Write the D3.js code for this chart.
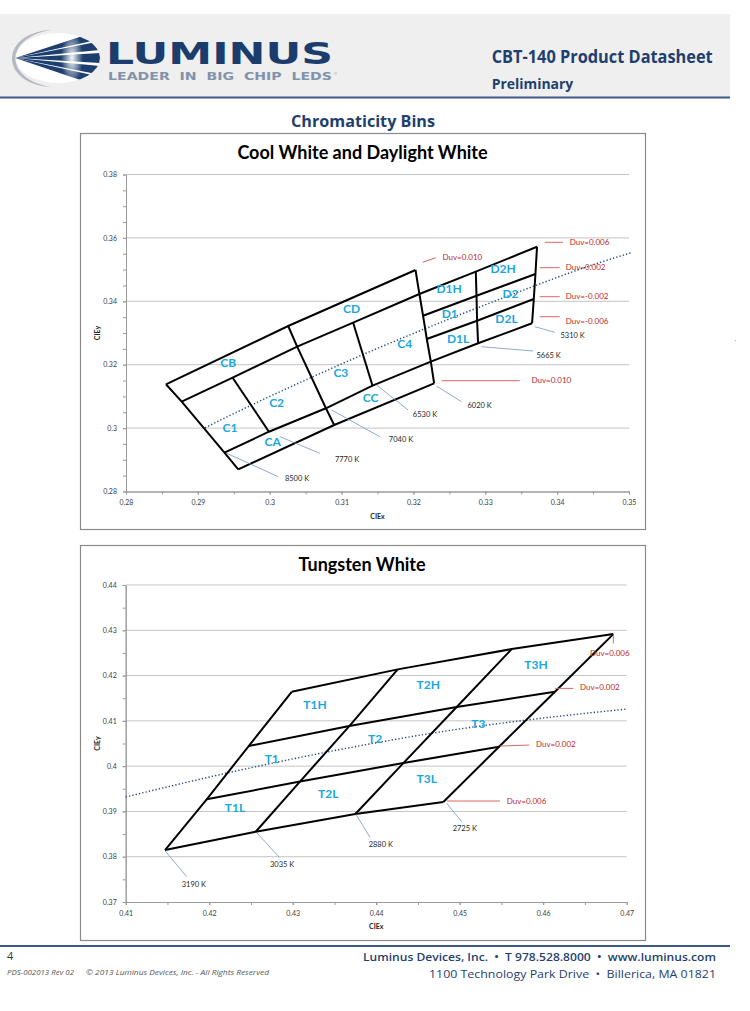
<!DOCTYPE html>
<html>
<head>
<meta charset="utf-8">
<script src="https://cdn.jsdelivr.net/npm/d3@7"></script>
<style>
body { margin: 0; background: #fff; }
svg { display: block; }
</style>
</head>
<body>
<script>
// ---------- data ----------

// Cool White / Daylight White (CIE x, CIE y)
const coolXTicks = [0.28, 0.29, 0.30, 0.31, 0.32, 0.33, 0.34, 0.35];
const coolYTicks = [0.28, 0.30, 0.32, 0.34, 0.36, 0.38];

// Duv boundary lines, top to bottom
const coolTop = [[0.28556, 0.31382], [0.30257, 0.33221], [0.32029, 0.34987]];
const coolUpper = [[0.28775, 0.30833], [0.29484, 0.31590], [0.30382, 0.32568], [0.31161, 0.33325],
                   [0.32083, 0.34230], [0.32868, 0.34934], [0.33720, 0.35722]];
const coolMidHigh = [[0.32134, 0.33546], [0.32878, 0.34177], [0.33698, 0.34861]];
const coolMidLow = [[0.32186, 0.32811], [0.32886, 0.33388], [0.33675, 0.34073]];
const coolLower = [[0.29370, 0.29224], [0.29989, 0.29886], [0.30782, 0.30625], [0.31431, 0.31338],
                   [0.32242, 0.32095], [0.32900, 0.32675], [0.33651, 0.33306]];
const coolBottom = [[0.29562, 0.28700], [0.30897, 0.30098], [0.32288, 0.31413]];

// black body locus (dotted)
const coolLocus = [[0.2910, 0.3001], [0.2952, 0.3048], [0.3003, 0.3103], [0.3064, 0.3166], [0.3135, 0.3237],
                   [0.3221, 0.3318], [0.3324, 0.3410], [0.3451, 0.3516], [0.3503, 0.3553]];

const coolBins = [
  {name: "CB", x: 0.29423, y: 0.32063}, {name: "CD", x: 0.31139, y: 0.33779},
  {name: "C1", x: 0.29446, y: 0.30025}, {name: "C2", x: 0.30096, y: 0.30814},
  {name: "C3", x: 0.30990, y: 0.31748}, {name: "C4", x: 0.31880, y: 0.32675},
  {name: "CA", x: 0.30040, y: 0.29584}, {name: "CC", x: 0.31403, y: 0.30972},
  {name: "D1H", x: 0.32497, y: 0.34410}, {name: "D1", x: 0.32506, y: 0.33600},
  {name: "D1L", x: 0.32622, y: 0.32833}, {name: "D2H", x: 0.33248, y: 0.35019},
  {name: "D2", x: 0.33351, y: 0.34230}, {name: "D2L", x: 0.33295, y: 0.33464}
];

const coolCct = [
  {text: "8500 K", at: [0.30211, 0.28426], from: [0.29405, 0.29205], to: [0.30118, 0.28467]},
  {text: "7770 K", at: [0.30907, 0.29025], from: [0.30142, 0.29729], to: [0.30698, 0.29205]},
  {text: "7040 K", at: [0.31658, 0.29656], from: [0.30861, 0.30571], to: [0.31533, 0.29729]},
  {text: "6530 K", at: [0.31992, 0.30445], from: [0.31487, 0.31360], to: [0.31926, 0.30571]},
  {text: "6020 K", at: [0.32752, 0.30729], from: [0.32321, 0.31328], to: [0.32669, 0.30833]},
  {text: "5665 K", at: [0.33712, 0.32306], from: [0.32947, 0.32568], to: [0.33665, 0.32432]},
  {text: "5310 K", at: [0.34046, 0.32915], from: [0.33689, 0.33199], to: [0.33967, 0.33022]}
];

const coolDuv = [
  {text: "Duv=0.006", at: [0.34175, 0.35871], from: [0.33828, 0.35861], to: [0.34082, 0.35861]},
  {text: "Duv=0.002", at: [0.34120, 0.35081], from: [0.33758, 0.35060], to: [0.34036, 0.35060]},
  {text: "Duv=-0.002", at: [0.34120, 0.34167], from: [0.33758, 0.34145], to: [0.34036, 0.34145]},
  {text: "Duv=-0.006", at: [0.34120, 0.33379], from: [0.33758, 0.33514], to: [0.34036, 0.33514]},
  {text: "Duv=0.010", at: [0.32405, 0.35397], from: [0.32127, 0.35230], to: [0.32311, 0.35375]},
  {text: "Duv=0.010", at: [0.33643, 0.31517], from: [0.32391, 0.31495], to: [0.33480, 0.31495]}
];

// Tungsten White
const tungXTicks = [0.41, 0.42, 0.43, 0.44, 0.45, 0.46, 0.47];
const tungYTicks = [0.37, 0.38, 0.39, 0.40, 0.41, 0.42, 0.43, 0.44];

const tungTop = [[0.42988, 0.41642], [0.44257, 0.42137], [0.45623, 0.42585], [0.46840, 0.42916]];
const tungUpper = [[0.42473, 0.40444], [0.43678, 0.40885], [0.44964, 0.41305], [0.46141, 0.41642]];
const tungLower = [[0.41970, 0.39267], [0.43087, 0.39660], [0.44325, 0.40068], [0.45471, 0.40428]];
const tungBottom = [[0.41471, 0.38148], [0.42557, 0.38552], [0.43750, 0.38943], [0.44804, 0.39208]];

const tungLocus = [[0.4100, 0.3932], [0.4234, 0.3990], [0.4369, 0.4041], [0.4478, 0.4076],
                   [0.4599, 0.4106], [0.4700, 0.4126]];

const tungBins = [
  {name: "T3H", x: 0.45914, y: 0.42232}, {name: "T2H", x: 0.44624, y: 0.41790},
  {name: "T1H", x: 0.43267, y: 0.41349}, {name: "T3", x: 0.45223, y: 0.40929},
  {name: "T2", x: 0.43986, y: 0.40598}, {name: "T1", x: 0.42749, y: 0.40172},
  {name: "T3L", x: 0.44605, y: 0.39731}, {name: "T2L", x: 0.43426, y: 0.39400},
  {name: "T1L", x: 0.42309, y: 0.39082}
];

const tungCct = [
  {text: "2725 K", at: [0.44916, 0.38627], from: [0.44844, 0.39179], to: [0.45024, 0.38773]},
  {text: "2880 K", at: [0.43910, 0.38274], from: [0.43758, 0.38936], to: [0.43926, 0.38428]},
  {text: "3035 K", at: [0.42728, 0.37839], from: [0.42569, 0.38530], to: [0.42840, 0.37987]},
  {text: "3190 K", at: [0.41671, 0.37397], from: [0.41471, 0.38132], to: [0.41731, 0.37559]}
];

const tungDuv = [
  {text: "Duv=0.006", at: [0.46560, 0.42503], from: [0.46840, 0.42916], to: [0.46840, 0.42711]},
  {text: "Duv=0.002", at: [0.46441, 0.41740], from: [0.46141, 0.41717], to: [0.46360, 0.41717]},
  {text: "Duv=0.002", at: [0.45914, 0.40481], from: [0.45483, 0.40444], to: [0.45833, 0.40466]},
  {text: "Duv=0.006", at: [0.45563, 0.39236], from: [0.44844, 0.39230], to: [0.45483, 0.39230]}
];

// ---------- page ----------

let svg = d3.select("body").append("svg")
  .attr("width", 750)
  .attr("height", 1011);

let navy = "#1f3f6e";
let chartFont = "Lato, 'Open Sans', sans-serif";

// header band
svg.append("rect").attr("x", 0).attr("y", 14).attr("width", 730).attr("height", 83).attr("fill", "#efefef");
svg.append("line").attr("x1", 0).attr("x2", 730).attr("y1", 97.5).attr("y2", 97.5)
  .attr("stroke", "#3a5a85").attr("stroke-width", 2);

// logo emblem
let defs = svg.append("defs");
defs.append("clipPath").attr("id", "emblem")
  .append("ellipse").attr("cx", 58).attr("cy", 58).attr("rx", 42).attr("ry", 25);
let glow = defs.append("radialGradient").attr("id", "glow");
glow.append("stop").attr("offset", "0%").attr("stop-color", "#fff").attr("stop-opacity", 0.95);
glow.append("stop").attr("offset", "100%").attr("stop-color", "#fff").attr("stop-opacity", 0);

svg.append("path")
  .attr("d", "M 52,30 A 45 29 0 0 0 52 87 A 38 27 0 0 1 52 30 Z")
  .attr("fill", "#b5bac2");

let emb = svg.append("g").attr("clip-path", "url(#emblem)");
emb.append("rect").attr("x", 10).attr("y", 30).attr("width", 95).attr("height", 60).attr("fill", "#fff");
[[30, 39], [41, 50], [53, 63], [66, 75], [77, 87]].forEach(function(b) {
  emb.append("path")
    .attr("d", `M 15,58 L 101,${b[0]} L 101,${b[1]} Z`)
    .attr("fill", "#1d3e6f");
});
emb.append("ellipse").attr("cx", 72).attr("cy", 58).attr("rx", 11).attr("ry", 26).attr("fill", "url(#glow)");

svg.append("text").attr("x", 106).attr("y", 64)
  .attr("font-family", "'DejaVu Sans', sans-serif").attr("font-weight", "bold").attr("font-size", 31)
  .attr("textLength", 227).attr("lengthAdjust", "spacingAndGlyphs")
  .attr("fill", "#1b3d6d").text("LUMINUS");

svg.append("text").attr("x", 108).attr("y", 80)
  .attr("font-family", "'DejaVu Sans', sans-serif").attr("font-weight", "bold").attr("font-size", 10)
  .attr("textLength", 224).attr("lengthAdjust", "spacingAndGlyphs")
  .attr("fill", "#8193aa").text("LEADER  IN  BIG  CHIP  LEDS")
  .attr("xml:space", "preserve");
svg.append("text").attr("x", 334).attr("y", 75)
  .attr("font-family", "sans-serif").attr("font-size", 4).attr("fill", "#8193aa").text("®");

svg.append("text").attr("x", 491.7).attr("y", 63)
  .attr("font-family", "'Open Sans', sans-serif").attr("font-weight", "bold").attr("font-size", 18)
  .attr("textLength", 221).attr("lengthAdjust", "spacingAndGlyphs")
  .attr("fill", navy).text("CBT-140 Product Datasheet");

svg.append("text").attr("x", 491.7).attr("y", 89)
  .attr("font-family", "'Open Sans', sans-serif").attr("font-weight", "bold").attr("font-size", 13.5)
  .attr("textLength", 81.6).attr("lengthAdjust", "spacingAndGlyphs")
  .attr("fill", navy).text("Preliminary");

svg.append("text").attr("x", 291).attr("y", 127)
  .attr("font-family", "'Open Sans', sans-serif").attr("font-weight", "bold").attr("font-size", 16)
  .attr("textLength", 144).attr("lengthAdjust", "spacingAndGlyphs")
  .attr("fill", navy).text("Chromaticity Bins");

svg.append("text").attr("x", 734).attr("y", 343).attr("font-size", 8).attr("fill", "#666").text("·");

// ---------- charts ----------

let fmt = d => String(+d.toFixed(3));

function drawChart(cfg) {
  let g = svg.append("g");

  g.append("rect") //chart frame
    .attr("x", cfg.frame[0] + 0.5).attr("y", cfg.frame[1] + 0.5)
    .attr("width", cfg.frame[2]).attr("height", cfg.frame[3])
    .attr("fill", "#fff").attr("stroke", "#8a8a8a").attr("stroke-width", 1.2);

  g.append("text")
    .attr("x", cfg.titleX).attr("y", cfg.frame[1] + 26)
    .attr("text-anchor", "middle")
    .attr("font-family", chartFont).attr("font-weight", "bold").attr("font-size", 18)
    .attr("fill", "#000").text(cfg.title);

  let x = d3.scaleLinear().domain(cfg.xDomain).range([cfg.left, cfg.right]);
  let y = d3.scaleLinear().domain(cfg.yDomain).range([cfg.bottom, cfg.top]);

  //horizontal gridlines
  g.selectAll(".grid").data(cfg.yTicks.slice(1)).enter().append("line")
    .attr("x1", cfg.left).attr("x2", cfg.right)
    .attr("y1", d => y(d)).attr("y2", d => y(d))
    .attr("stroke", "#c4c4c4").attr("stroke-width", 1);

  let minorX = d3.range(cfg.xDomain[0], cfg.xDomain[1] + 1e-9, 0.005);
  let minorY = d3.range(cfg.yDomain[0], cfg.yDomain[1] + 1e-9, 0.005);

  g.append("g").attr("transform", `translate(0, ${cfg.bottom})`)
    .call(d3.axisBottom(x).tickValues(cfg.xTicks).tickFormat(fmt).tickSize(3).tickSizeOuter(0).tickPadding(6));
  g.append("g").attr("transform", `translate(0, ${cfg.bottom})`)
    .call(d3.axisBottom(x).tickValues(minorX).tickFormat("").tickSize(3).tickSizeOuter(0));
  g.append("g").attr("transform", `translate(${cfg.left}, 0)`)
    .call(d3.axisLeft(y).tickValues(cfg.yTicks).tickFormat(fmt).tickSize(3).tickSizeOuter(0).tickPadding(6));
  g.append("g").attr("transform", `translate(${cfg.left}, 0)`)
    .call(d3.axisLeft(y).tickValues(minorY).tickFormat("").tickSize(3).tickSizeOuter(0));

  g.selectAll(".domain, .tick line").attr("stroke", "#9a9a9a");
  g.selectAll(".tick text").attr("font-family", chartFont).attr("font-size", 7).attr("fill", "#404040");

  g.append("text")
    .attr("x", (cfg.left + cfg.right) / 2).attr("y", cfg.bottom + 27)
    .attr("text-anchor", "middle").attr("font-family", chartFont).attr("font-weight", "bold")
    .attr("font-size", 7).attr("fill", "#262626").text("CIEx");
  g.append("text")
    .attr("transform", `translate(${cfg.left - 26}, ${(cfg.top + cfg.bottom) / 2}) rotate(-90)`)
    .attr("text-anchor", "middle").attr("font-family", chartFont).attr("font-weight", "bold")
    .attr("font-size", 7).attr("fill", "#262626").text("CIEy");

  let line = d3.line().x(d => x(d[0])).y(d => y(d[1]));

  //black body locus
  g.append("path")
    .attr("d", line.curve(d3.curveMonotoneX)(cfg.locus))
    .attr("fill", "none").attr("stroke", "#1f497d").attr("stroke-width", 1.4)
    .attr("stroke-dasharray", "1.3 2.1");
  line.curve(d3.curveLinear);

  //bin boundaries
  g.selectAll(".bin").data(cfg.lines).enter().append("path")
    .attr("d", line)
    .attr("fill", "none").attr("stroke", "#000").attr("stroke-width", 2)
    .attr("stroke-linejoin", "miter");

  //leader lines and colour temperatures
  g.selectAll(".leader").data(cfg.cct).enter().append("line")
    .attr("x1", d => x(d.from[0])).attr("y1", d => y(d.from[1]))
    .attr("x2", d => x(d.to[0])).attr("y2", d => y(d.to[1]))
    .attr("stroke", "#7393bd").attr("stroke-width", 0.8);
  g.selectAll(".cct").data(cfg.cct).enter().append("text")
    .attr("x", d => x(d.at[0])).attr("y", d => y(d.at[1])).attr("dy", "0.35em")
    .attr("font-family", chartFont).attr("font-size", 7.5).attr("fill", "#262626")
    .text(d => d.text);

  //Duv notes
  g.selectAll(".duvline").data(cfg.duv).enter().append("line")
    .attr("x1", d => x(d.from[0])).attr("y1", d => y(d.from[1]))
    .attr("x2", d => x(d.to[0])).attr("y2", d => y(d.to[1]))
    .attr("stroke", "#e06666").attr("stroke-width", 1);
  g.selectAll(".duv").data(cfg.duv).enter().append("text")
    .attr("x", d => x(d.at[0])).attr("y", d => y(d.at[1])).attr("dy", "0.35em")
    .attr("font-family", chartFont).attr("font-size", 8).attr("fill", "#c0282d")
    .text(d => d.text);

  //bin names
  g.selectAll(".binname").data(cfg.bins).enter().append("text")
    .attr("x", d => x(d.x)).attr("y", d => y(d.y)).attr("dy", "0.36em")
    .attr("text-anchor", "middle")
    .attr("font-family", chartFont).attr("font-weight", "bold").attr("font-size", 12)
    .attr("fill", "#1aa6de")
    .text(d => d.name);
}

drawChart({
  title: "Cool White and Daylight White",
  titleX: 362.5,
  frame: [80, 133, 565, 396],
  left: 126, right: 629, top: 174.5, bottom: 491.5,
  xDomain: [0.28, 0.35], yDomain: [0.28, 0.38],
  xTicks: coolXTicks, yTicks: coolYTicks,
  locus: coolLocus,
  lines: [
    coolTop, coolUpper, coolMidHigh, coolMidLow, coolLower, coolBottom,
    [coolTop[0], coolUpper[0], coolLower[0], coolBottom[0]],               // 8500 K
    [coolUpper[1], coolLower[1]],                                          // 7770 K
    [coolTop[1], coolUpper[2], coolLower[2], coolBottom[1]],               // 7040 K
    [coolUpper[3], coolLower[3]],                                          // 6530 K
    [coolTop[2], coolUpper[4], coolMidHigh[0], coolMidLow[0], coolLower[4], coolBottom[2]], // 6020 K
    [coolUpper[5], coolMidHigh[1], coolMidLow[1], coolLower[5]],           // 5665 K
    [coolUpper[6], coolMidHigh[2], coolMidLow[2], coolLower[6]]            // 5310 K
  ],
  bins: coolBins, cct: coolCct, duv: coolDuv
});

drawChart({
  title: "Tungsten White",
  titleX: 362,
  frame: [80, 545, 565, 395],
  left: 125.7, right: 626.7, top: 585, bottom: 902,
  xDomain: [0.41, 0.47], yDomain: [0.37, 0.44],
  xTicks: tungXTicks, yTicks: tungYTicks,
  locus: tungLocus,
  lines: [tungTop, tungUpper, tungLower, tungBottom]
    .concat(d3.range(4).map(i => [tungBottom[i], tungLower[i], tungUpper[i], tungTop[i]])),
  bins: tungBins, cct: tungCct, duv: tungDuv
});

// ---------- footer ----------

svg.append("line").attr("x1", 0).attr("x2", 730).attr("y1", 946).attr("y2", 946)
  .attr("stroke", "#3a5a85").attr("stroke-width", 2);

svg.append("text").attr("x", 7).attr("y", 960)
  .attr("font-family", "'Open Sans', sans-serif").attr("font-size", 11).attr("fill", "#333").text("4");

svg.append("text").attr("x", 7).attr("y", 975)
  .attr("font-family", "'Open Sans', sans-serif").attr("font-style", "italic").attr("font-size", 7.5)
  .attr("textLength", 67).attr("lengthAdjust", "spacingAndGlyphs")
  .attr("fill", "#555").text("PDS-002013 Rev 02");
svg.append("text").attr("x", 86).attr("y", 975)
  .attr("font-family", "'Open Sans', sans-serif").attr("font-style", "italic").attr("font-size", 7.5)
  .attr("textLength", 183).attr("lengthAdjust", "spacingAndGlyphs")
  .attr("fill", "#555").text("© 2013 Luminus Devices, Inc. - All Rights Reserved");

let nb = "\u00a0\u00a0";
svg.append("text").attr("x", 716).attr("y", 961).attr("text-anchor", "end")
  .attr("font-family", "'Open Sans', sans-serif").attr("font-weight", 600).attr("font-size", 11.5)
  .attr("textLength", 353).attr("lengthAdjust", "spacingAndGlyphs")
  .attr("fill", navy).text(`Luminus Devices, Inc.${nb}\u2022${nb}T 978.528.8000${nb}\u2022${nb}www.luminus.com`);
svg.append("text").attr("x", 716).attr("y", 977.5).attr("text-anchor", "end")
  .attr("font-family", "'Open Sans', sans-serif").attr("font-size", 11.5)
  .attr("textLength", 287).attr("lengthAdjust", "spacingAndGlyphs")
  .attr("fill", navy).text(`1100 Technology Park Drive${nb}\u2022${nb}Billerica, MA 01821`);
</script>
</body>
</html>
